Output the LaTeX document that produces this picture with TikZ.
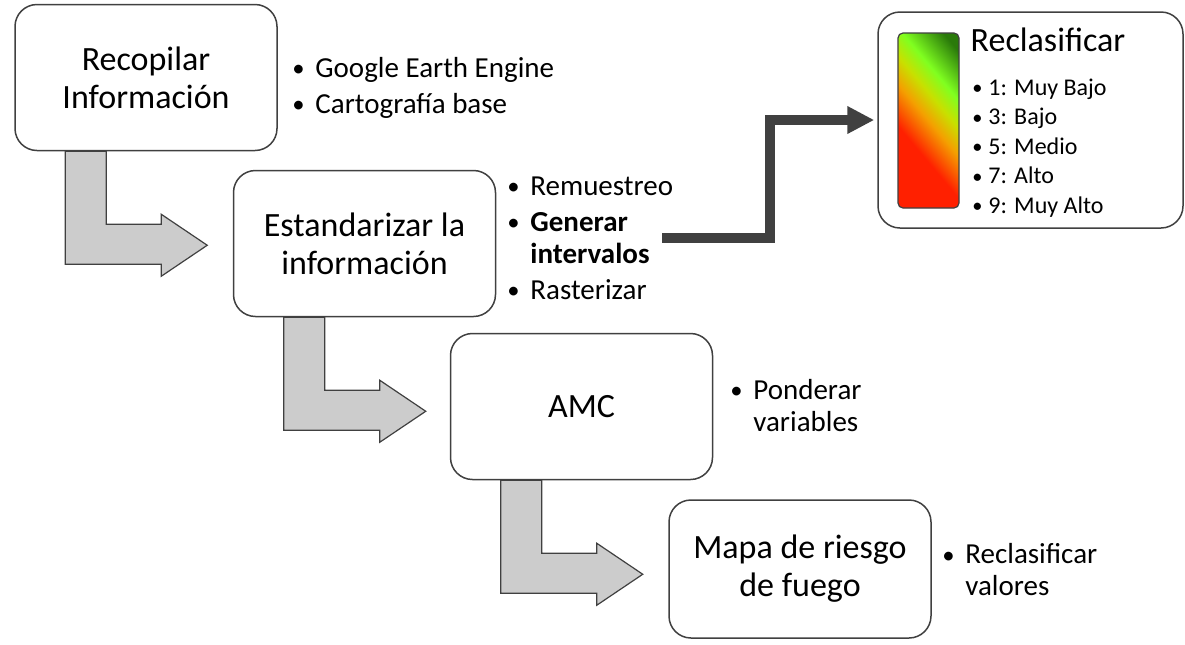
\documentclass[tikz,border=0pt]{standalone}
\usepackage{fontspec}
\usepackage{graphicx}
\setmainfont{Carlito}
\usetikzlibrary{positioning}
\usetikzlibrary{calc}
\usetikzlibrary{arrows.meta}
\definecolor{borde}{HTML}{404040}
\definecolor{relleno}{HTML}{CCCCCC}
\definecolor{rojo}{HTML}{FF2000}
\definecolor{naranja}{HTML}{F4A000}
\definecolor{amarillo}{HTML}{C8E000}
\definecolor{verdeclaro}{HTML}{80FF20}
\definecolor{verdeosc}{HTML}{2A7A0A}
\pgfdeclareverticalshading{riesgo}{100bp}{color(0bp)=(rojo); color(38bp)=(rojo); color(50bp)=(naranja); color(58bp)=(amarillo); color(66bp)=(verdeclaro); color(80bp)=(verdeosc); color(100bp)=(verdeosc)}
\tikzstyle{paso}=[rectangle,rounded corners=11pt,draw=borde,line width=0.75pt,fill=white,minimum width=131pt,minimum height=73pt,align=center,font=\fontsize{17}{19}\selectfont]
\tikzstyle{lista}=[align=left,anchor=west,inner sep=0pt,font=\fontsize{14.5}{16}\selectfont]
\tikzstyle{flecha}=[draw=borde,line width=0.6pt,fill=relleno,line join=miter]
\tikzstyle{conector}=[draw=borde,line width=5pt,shorten >=1.5pt,-{Triangle[length=13.5pt,width=13pt]}]
\newcommand{\pto}{\raisebox{0.05ex}{\scalebox{0.85}{\textbullet}}}
\newcommand{\vin}[1]{\makebox[11.5pt][l]{\pto}#1}
\newcommand{\cont}[1]{\hspace*{11.5pt}#1}
\newcommand{\vinr}[1]{\makebox[8pt][l]{\pto}#1}

\begin{document}
\begin{tikzpicture}[x=0.5pt,y=-0.5pt]
	\useasboundingbox (0,0) rectangle (1185,644);
	
	% pasos
	\node [paso] (b1) at (146,77.5) {Recopilar\\Información};
	\node [paso] (b2) at (364.5,243.5) {Estandarizar la\\información};
	\node [paso] (b3) at (581.5,406.5) {AMC};
	\node [paso,minimum height=69pt] (b4) at (800,569) {Mapa de riesgo\\de fuego};
	
	% listas
	\node [lista] (l1) at (292,88) {\vin{Google Earth Engine}\\[2pt]\vin{Cartografía base}};
	\node [lista] (l2) at (507,238) {\vin{Remuestreo}\\[2pt]\vin{\textbf{Generar}}\\\cont{\textbf{intervalos}}\\[2pt]\vin{Rasterizar}};
	\node [lista] (l3) at (730,405.5) {\vin{Ponderar}\\\cont{variables}};
	\node [lista] (l4) at (942,570) {\vin{Reclasificar}\\\cont{valores}};
	
	% reclasificar
	\node [paso,minimum width=152.5pt,minimum height=108pt] (rc) at (1030.5,120) {};
	\node [rectangle,rounded corners=2.5pt,draw=borde,line width=0.6pt,shading=riesgo,shading angle=-50,minimum width=30.5pt,minimum height=87.5pt] (bar) at (928.5,120.5) {};
	\node [font=\fontsize{17}{20}\selectfont] (tit) at (1048,40) {Reclasificar};
	\node [lista,font=\fontsize{12}{14.75}\selectfont] (l5) at (972,148) {\vinr{1: Muy Bajo}\\\vinr{3: Bajo}\\\vinr{5: Medio}\\\vinr{7: Alto}\\\vinr{9: Muy Alto}};
	
	% flechas
	\foreach \a/\b in {b1/b2,b2/b3,b3/b4}
	{
		\begin{scope}[shift={(\a.south west)}]
		\draw[flecha] (51,0) -- (92,0) -- (92,73) -- (147,73) -- (147,63) -- (193,94) -- (147,125) -- (147,113) -- (51,113) -- cycle;
		\end{scope}
	}
	
	\coordinate (gi) at (662,238);
	\coordinate (m) at ($(gi)!0.5!(rc.west)$);
	\draw[conector] (gi) -| (m) |- (rc.west);
	
\end{tikzpicture}
\end{document}
